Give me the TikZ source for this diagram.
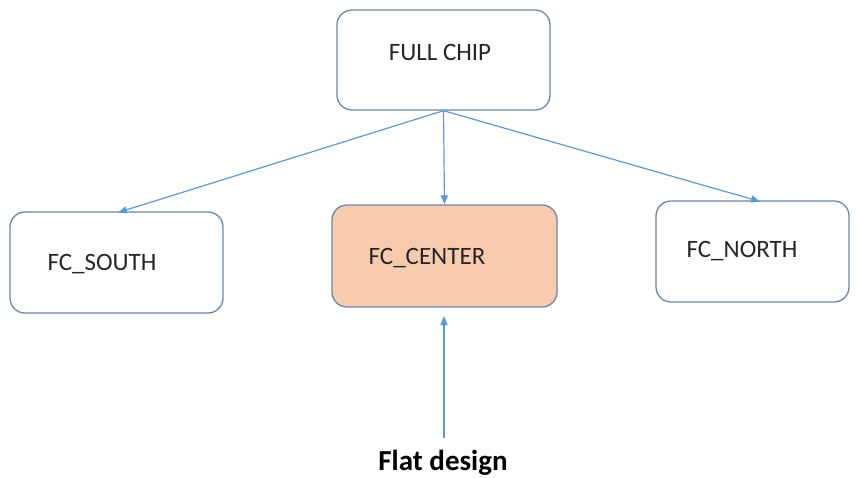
\documentclass[tikz,border=0pt]{standalone}
\usepackage{fontspec}
\setmainfont{Carlito}
\usetikzlibrary{arrows.meta}
\definecolor{edgeblue}{HTML}{5B9BD5}
\definecolor{boxline}{HTML}{6A88A8}
\definecolor{peach}{HTML}{F8CBAD}
\tikzset{
  blk/.style={draw=boxline, line width=1.3pt, rounded corners=15pt, fill=white, inner sep=0pt},
  lbl/.style={font=\fontsize{25}{30}\selectfont, text=black!85, inner sep=0pt},
  link/.style={draw=edgeblue, line width=1.2pt, -{Triangle[length=9pt,width=7pt]}}
}
\begin{document}
\begin{tikzpicture}[x=1pt, y=-1pt]
  \useasboundingbox[fill=white] (0,0) rectangle (857,477);

  % blocks of the hierarchy
  \node[blk, minimum width=213pt, minimum height=100pt] (full) at (443.5,60) {};
  \node[blk, minimum width=213pt, minimum height=101pt] (south) at (116.5,262.5) {};
  \node[blk, fill=peach, minimum width=225pt, minimum height=102pt] (center) at (444.5,256) {};
  \node[blk, minimum width=193pt, minimum height=101pt] (north) at (752.5,251.5) {};

  % block names
  \node[lbl] (fullt) at (440,52) {FULL CHIP};
  \node[lbl] (southt) at (102,264) {FC\_SOUTH};
  \node[lbl] (centert) at (427,258) {FC\_CENTER};
  \node[lbl] (northt) at (742,251) {FC\_NORTH};

  % caption and its arrow
  \node[font=\bfseries\fontsize{29}{34}\selectfont, inner sep=0pt] (flat) at (443,463) {Flat design};
  \coordinate (flattop) at (444,438);
  \coordinate (centerin) at (444,316);

  % connectors
  \draw[link] (full.south) -- (118,212.5) coordinate (southin);
  \draw[link] (full.south) -- (center.north);
  \draw[link] (full.south) -- (760,201.5) coordinate (northin);
  \draw[link] (flattop) -- (centerin);
\end{tikzpicture}
\end{document}
